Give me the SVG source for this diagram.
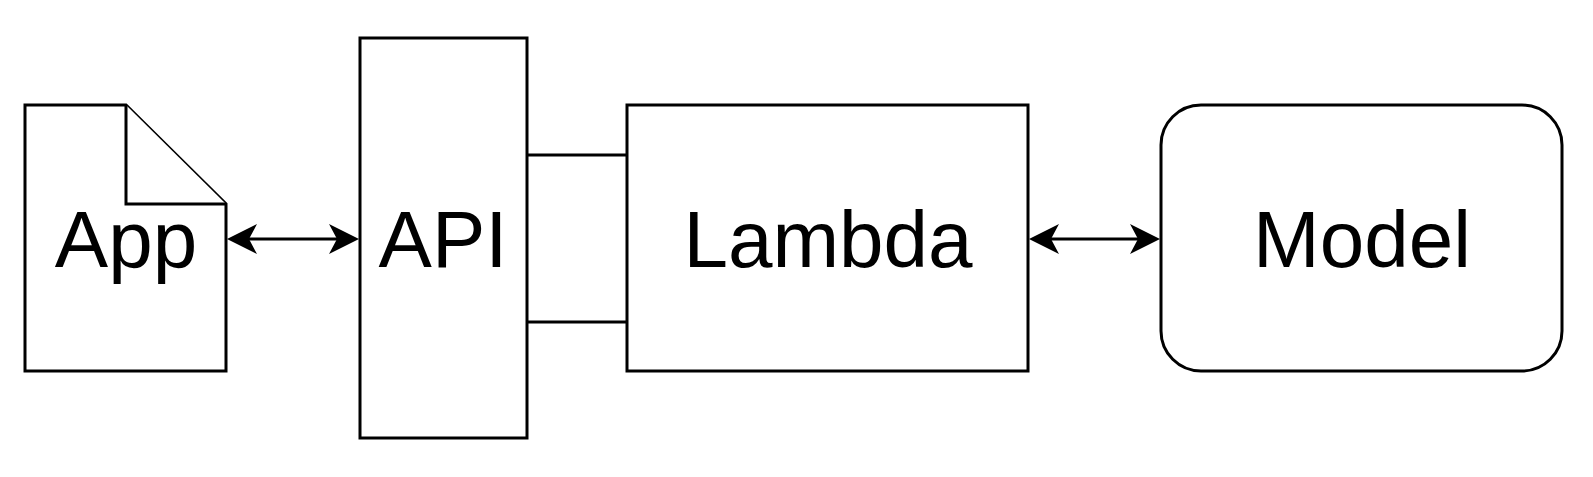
<svg xmlns="http://www.w3.org/2000/svg" width="1593" height="477" viewBox="0 0 1593 477">
<style>
.n{fill:#fff;stroke:#000;stroke-width:3}
.t{font-family:"Liberation Sans",Arial,sans-serif;font-size:80px;fill:#000;text-anchor:middle}
.c{fill:none;stroke:#000;stroke-width:3}
</style>
<defs>
<marker id="ah" markerUnits="userSpaceOnUse" viewBox="0 0 30 30" markerWidth="30" markerHeight="30" refX="22" refY="15" orient="auto-start-reverse">
<path d="M30 15 L0 0 L8 15 L0 30 Z" fill="#000"/>
</marker>
</defs>
<rect width="1593" height="477" fill="#fff"/>
<g id="connectors">
<line class="c" x1="235" y1="239" x2="351" y2="239" marker-start="url(#ah)" marker-end="url(#ah)"/>
<line class="c" x1="527" y1="155" x2="627" y2="155"/>
<line class="c" x1="527" y1="322" x2="627" y2="322"/>
<line class="c" x1="1037" y1="239" x2="1152" y2="239" marker-start="url(#ah)" marker-end="url(#ah)"/>
</g>
<g id="app">
<path class="n" d="M25 105 H126 L226 204 V371 H25 Z"/>
<path class="n" d="M126 105 V204 H226"/>
<text class="t" x="126" y="267">App</text>
</g>
<g id="api">
<rect class="n" x="360" y="38" width="167" height="400"/>
<text class="t" x="443" y="267">API</text>
</g>
<g id="lambda">
<rect class="n" x="627" y="105" width="401" height="266"/>
<text class="t" x="828" y="267">Lambda</text>
</g>
<g id="model">
<rect class="n" x="1161" y="105" width="401" height="266" rx="40" ry="40"/>
<text class="t" x="1362" y="267">Model</text>
</g>
</svg>
